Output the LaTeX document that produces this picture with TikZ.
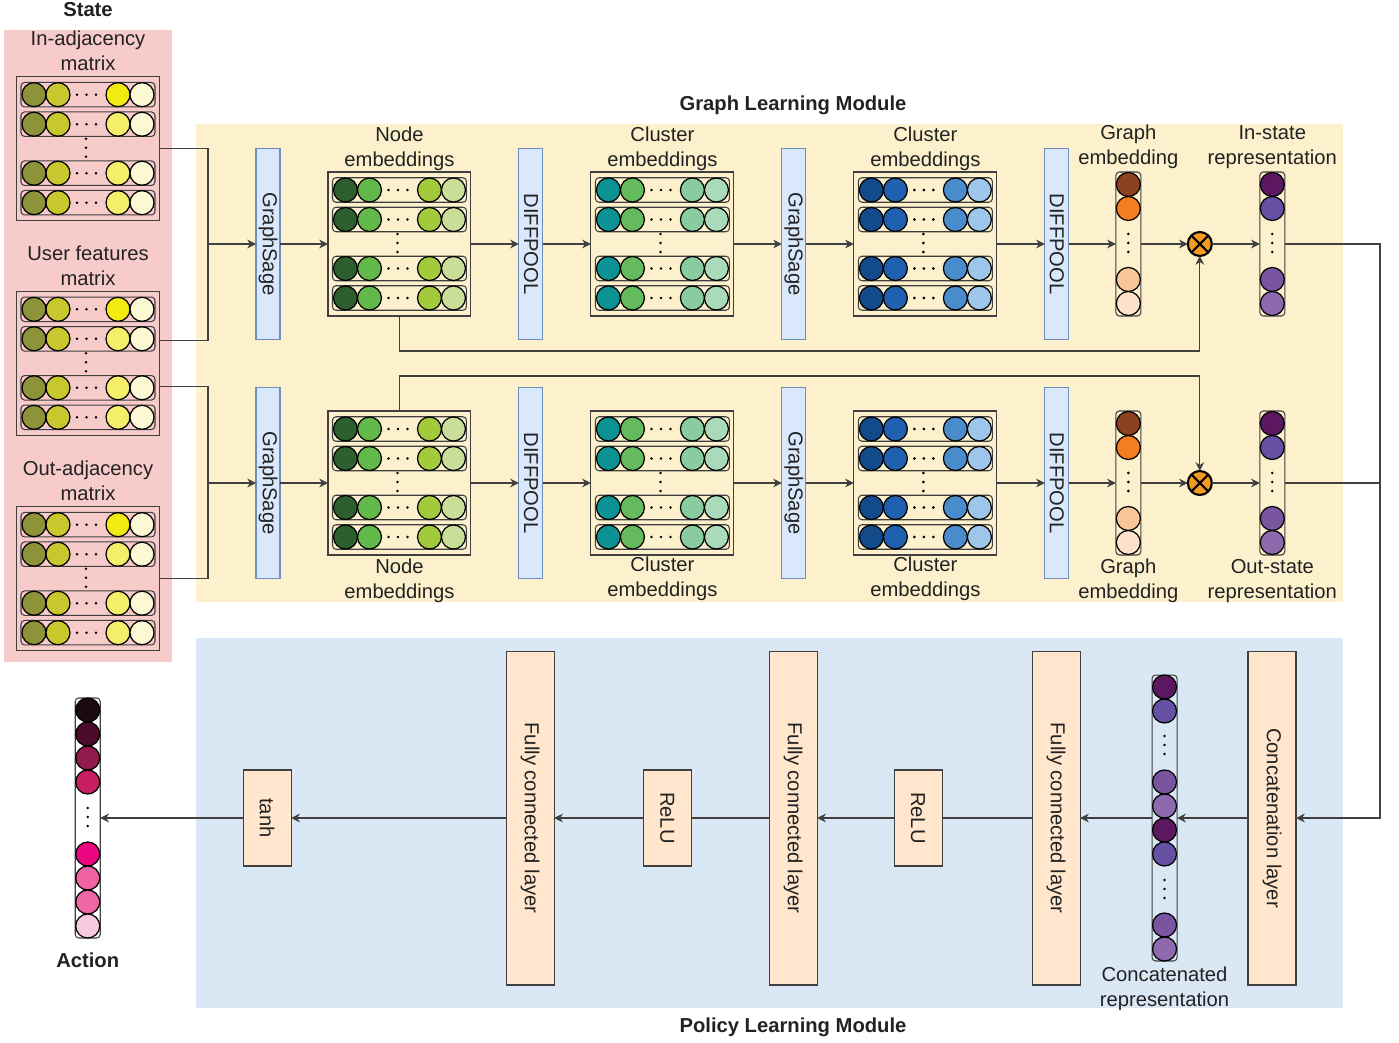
\documentclass[tikz,border=0pt]{standalone}
\usepackage{fontspec}
\setmainfont{Liberation Sans}
\usetikzlibrary{positioning, arrows.meta}

\definecolor{statebg}{HTML}{F8CBCB}
\definecolor{graphbg}{HTML}{FCF1CC}
\definecolor{policybg}{HTML}{DAE7F5}
\definecolor{sagefill}{HTML}{DAE8FC}
\definecolor{sageline}{HTML}{6C8EBF}
\definecolor{layerfill}{HTML}{FFE6CC}
\definecolor{linecol}{HTML}{404040}
\definecolor{txtcol}{HTML}{222222}
\definecolor{multfill}{HTML}{F59B22}
% state matrices
\definecolor{yA}{HTML}{8E9239}
\definecolor{yB}{HTML}{C8C82E}
\definecolor{yC}{HTML}{F2EA10}
\definecolor{yD}{HTML}{F5EE6A}
\definecolor{yE}{HTML}{FBF8D3}
% node embeddings
\definecolor{gA}{HTML}{2C5F2D}
\definecolor{gB}{HTML}{63B84A}
\definecolor{gC}{HTML}{A2CA3A}
\definecolor{gD}{HTML}{C9DF99}
% cluster embeddings
\definecolor{tA}{HTML}{0C9292}
\definecolor{tB}{HTML}{65BA5E}
\definecolor{tC}{HTML}{88CCA0}
\definecolor{tD}{HTML}{A9DBBB}
\definecolor{bA}{HTML}{134A89}
\definecolor{bB}{HTML}{1F60AF}
\definecolor{bC}{HTML}{4A8CCB}
\definecolor{bD}{HTML}{9DC6EA}
% graph embedding and states
\definecolor{oA}{HTML}{8B4220}
\definecolor{oB}{HTML}{F37E22}
\definecolor{oC}{HTML}{F9C797}
\definecolor{oD}{HTML}{FDE1CB}
\definecolor{pA}{HTML}{5B1860}
\definecolor{pB}{HTML}{6650A3}
\definecolor{pC}{HTML}{79549F}
\definecolor{pD}{HTML}{8E69AE}
% action
\definecolor{aA}{HTML}{1C0A12}
\definecolor{aB}{HTML}{4C0B2A}
\definecolor{aC}{HTML}{931B4E}
\definecolor{aD}{HTML}{C71F62}
\definecolor{aE}{HTML}{EC0580}
\definecolor{aF}{HTML}{F063A2}
\definecolor{aG}{HTML}{F066A4}
\definecolor{aH}{HTML}{F8CADF}

\newcommand\lblfont{\fontsize{11.5}{14.2}\selectfont}

\tikzset{
	every node/.append style={
		font=\lblfont,
		text=txtcol,
		outer sep=0pt,
	},
	panel/.style={draw=none, inner sep=0pt},
	title/.style={font=\lblfont\bfseries, inner sep=1pt},
	lbl/.style={align=center, inner sep=1pt},
	matbox/.style={draw=linecol, minimum width=2.86cm, minimum height=2.88cm, inner sep=0pt},
	matrow/.style={draw=linecol, rounded corners=2pt, minimum width=2.68cm, minimum height=0.49cm, inner sep=0pt},
	neuron/.style={circle, draw=black, line width=0.7pt, minimum size=0.48cm, inner sep=0pt},
	vecbox/.style={draw=linecol, rounded corners=2pt, minimum width=0.5cm, inner sep=0pt},
	sagebox/.style={draw=sageline, fill=sagefill, minimum width=0.48cm, minimum height=3.82cm, inner sep=0pt},
	fcbox/.style={draw=linecol, fill=layerfill, minimum width=0.96cm, minimum height=6.68cm, inner sep=0pt},
	actbox/.style={draw=linecol, fill=layerfill, minimum width=0.96cm, minimum height=1.92cm, inner sep=0pt},
	otimes/.style={
		circle, draw=black, line width=1.2pt, fill=multfill,
		minimum size=0.48cm, inner sep=0pt,
		path picture={
			\draw[line width=1.2pt]
				(path picture bounding box.north west) -- (path picture bounding box.south east)
				(path picture bounding box.north east) -- (path picture bounding box.south west);
		}
	},
	wire/.style={draw=linecol, line width=0.6pt},
	flow/.style={wire, -{Stealth[length=5pt, width=5pt, inset=1.6pt]}},
}

\newcommand\dotrow[2]{%
	\foreach \dd in {-9.5,0,9.5} {\fill[black] ({#1+(\dd)},{#2}) circle[radius=0.8pt];}%
}
\newcommand\dotcol[2]{%
	\foreach \dd in {-9,0,9} {\fill[black] ({#1},{#2+(\dd)}) circle[radius=0.8pt];}%
}

% name, placement, colours 1-4, colour 3 of the first row
\newcommand\embmatrix[7]{%
	\node[matbox, #2] (#1) {};
	\begin{scope}[shift={(#1.center)}]
		\foreach \r/\dy/\cc in {1/-54/#7, 2/-24.5/#5, 3/24.5/#5, 4/54/#5} {
			\node[matrow] (#1-r\r) at (0,\dy) {};
			\foreach \dx/\cf [count=\k] in {-54/#3, -30/#4, 30/\cc, 54/#6} {
				\node[neuron, fill=\cf] (#1-r\r-\k) at (\dx,\dy) {};
			}
			\dotrow{-1.5}{\dy}
		}
		\dotcol{-2}{-1}
	\end{scope}
}

% name, placement, height, offset/colour pairs, dot groups
\newcommand\embvector[5]{%
	\node[vecbox, minimum height=#3, #2] (#1) {};
	\begin{scope}[shift={(#1.center)}]
		\foreach \dy/\cf [count=\k] in {#4} {
			\node[neuron, fill=\cf] (#1-\k) at (0,\dy) {};
		}
		\foreach \dy in {#5} {\dotcol{0}{\dy-1}}
	\end{scope}
}

\begin{document}
\begin{tikzpicture}[x=0.02cm, y=-0.02cm, line width=0.6pt]
\useasboundingbox (0,0) rectangle (1399,1043);

% panels
\node[panel, fill=statebg, minimum width=3.36cm, minimum height=12.66cm] (state) at (88,346) {};
\node[panel, fill=graphbg, minimum width=22.94cm, minimum height=9.56cm] (glm) at (769.5,363) {};
\node[panel, fill=policybg, minimum width=22.94cm, minimum height=7.4cm] (plm) at (769.5,823) {};
\node[title, anchor=base] (statelbl) at (88,16.7) {State};
\node[title, anchor=base] (glmlbl) at (793,111) {Graph Learning Module};
\node[title, anchor=base] (plmlbl) at (793,1032) {Policy Learning Module};

% state
\embmatrix{inadj}{at={(88,148.7)}}{yA}{yB}{yD}{yE}{yC}
\node[lbl, above=2.4pt of inadj] (inadjlbl) {In-adjacency\\matrix};
\embmatrix{ufeat}{at={(88,363.3)}}{yA}{yB}{yD}{yE}{yC}
\node[lbl, above=2.4pt of ufeat] (ufeatlbl) {User features\\matrix};
\embmatrix{outadj}{at={(88,578.7)}}{yA}{yB}{yD}{yE}{yC}
\node[lbl, above=2.4pt of outadj] (outadjlbl) {Out-adjacency\\matrix};

% in-state branch
\node[sagebox] (sage1) at (268,244) {\rotatebox{-90}{GraphSage}};
\embmatrix{node1}{right=0.96cm of sage1}{gA}{gB}{gC}{gD}{gC}
\node[sagebox, right=0.96cm of node1] (pool1) {\rotatebox{-90}{DIFFPOOL}};
\embmatrix{clus1}{right=0.96cm of pool1}{tA}{tB}{tC}{tD}{tC}
\node[sagebox, right=0.96cm of clus1] (sage2) {\rotatebox{-90}{GraphSage}};
\embmatrix{clus2}{right=0.96cm of sage2}{bA}{bB}{bC}{bD}{bC}
\node[sagebox, right=0.96cm of clus2] (pool2) {\rotatebox{-90}{DIFFPOOL}};
\embvector{gemb1}{right=0.94cm of pool2}{2.88cm}{-59.5/oA, -35.5/oB, 35.5/oC, 59.5/oD}{0}
\node[otimes, right=0.94cm of gemb1] (mult1) {};
\embvector{instate}{right=0.96cm of mult1}{2.88cm}{-59.5/pA, -35.5/pB, 35.5/pC, 59.5/pD}{0}

\node[lbl, above=0pt of node1] (node1lbl) {Node\\embeddings};
\node[lbl, above=0pt of clus1] (clus1lbl) {Cluster\\embeddings};
\node[lbl, above=0pt of clus2] (clus2lbl) {Cluster\\embeddings};
\node[lbl, above=1pt of gemb1] (gemb1lbl) {Graph\\embedding};
\node[lbl, above=1pt of instate] (instatelbl) {In-state\\representation};

% out-state branch
\node[sagebox] (sage3) at (268,483) {\rotatebox{-90}{GraphSage}};
\embmatrix{node2}{right=0.96cm of sage3}{gA}{gB}{gC}{gD}{gC}
\node[sagebox, right=0.96cm of node2] (pool3) {\rotatebox{-90}{DIFFPOOL}};
\embmatrix{clus3}{right=0.96cm of pool3}{tA}{tB}{tC}{tD}{tC}
\node[sagebox, right=0.96cm of clus3] (sage4) {\rotatebox{-90}{GraphSage}};
\embmatrix{clus4}{right=0.96cm of sage4}{bA}{bB}{bC}{bD}{bC}
\node[sagebox, right=0.96cm of clus4] (pool4) {\rotatebox{-90}{DIFFPOOL}};
\embvector{gemb2}{right=0.94cm of pool4}{2.88cm}{-59.5/oA, -35.5/oB, 35.5/oC, 59.5/oD}{0}
\node[otimes, right=0.94cm of gemb2] (mult2) {};
\embvector{outstate}{right=0.96cm of mult2}{2.88cm}{-59.5/pA, -35.5/pB, 35.5/pC, 59.5/pD}{0}

\node[lbl, below=1pt of node2] (node2lbl) {Node\\embeddings};
\node[lbl, below=0pt of clus3] (clus3lbl) {Cluster\\embeddings};
\node[lbl, below=0pt of clus4] (clus4lbl) {Cluster\\embeddings};
\node[lbl, below=1.4pt of gemb2] (gemb2lbl) {Graph\\embedding};
\node[lbl, below=1.4pt of outstate] (outstatelbl) {Out-state\\representation};

% policy
\node[fcbox] (concat) at (1272,818) {\rotatebox{-90}{Concatenation layer}};
\embvector{cvec}{left=1.42cm of concat}{5.72cm}{-131/pA, -107/pB, -36/pC, -12/pD, 12/pA, 36/pB, 107/pC, 131/pD}{-72,72}
\node[lbl, below=2.2pt of cvec] (cveclbl) {Concatenated\\representation};
\node[fcbox, left=1.44cm of cvec] (fc3) {\rotatebox{-90}{Fully connected layer}};
\node[actbox, left=1.8cm of fc3] (relu2) {\rotatebox{-90}{ReLU}};
\node[fcbox, left=1.54cm of relu2] (fc2) {\rotatebox{-90}{Fully connected layer}};
\node[actbox, left=1.56cm of fc2] (relu1) {\rotatebox{-90}{ReLU}};
\node[fcbox, left=1.78cm of relu1] (fc1) {\rotatebox{-90}{Fully connected layer}};
\node[actbox, left=4.3cm of fc1] (tanh) {\rotatebox{-90}{tanh}};
\embvector{action}{left=2.86cm of tanh}{4.8cm}{-108/aA, -84/aB, -60/aC, -36/aD, 36/aE, 60/aF, 84/aG, 108/aH}{0}
\node[title, below=7.4pt of action] (actionlbl) {Action};

% connectors
\coordinate[left=0.96cm of sage1] (jtop);
\coordinate[left=0.96cm of sage3] (jbot);
\draw[wire] (inadj.east) -| (jtop);
\draw[wire] ([yshift=0.45cm]ufeat.east) -| (jtop);
\draw[wire] ([yshift=-0.47cm]ufeat.east) -| (jbot);
\draw[wire] (outadj.east) -| (jbot);

\foreach \a/\b in {jtop/sage1, sage1/node1, node1/pool1, pool1/clus1, clus1/sage2, sage2/clus2,
	clus2/pool2, pool2/gemb1, gemb1/mult1, mult1/instate,
	jbot/sage3, sage3/node2, node2/pool3, pool3/clus3, clus3/sage4, sage4/clus4,
	clus4/pool4, pool4/gemb2, gemb2/mult2, mult2/outstate}
	\draw[flow] (\a) -- (\b);

\draw[flow] (node1.south) -- ++(0,35) -| (mult1.south);
\draw[flow] (node2.north) -- ++(0,-35) -| (mult2.north);

\draw[flow] (instate.east) -| ([xshift=1.68cm]concat.east) -- (concat.east);
\draw[wire] (outstate.east) -- ++(95,0);

\foreach \a/\b/\s in {concat/cvec/flow, cvec/fc3/flow, fc3/relu2/wire, relu2/fc2/flow,
	fc2/relu1/wire, relu1/fc1/flow, fc1/tanh/flow, tanh/action/flow}
	\draw[\s] (\a) -- (\b);
\end{tikzpicture}
\end{document}
